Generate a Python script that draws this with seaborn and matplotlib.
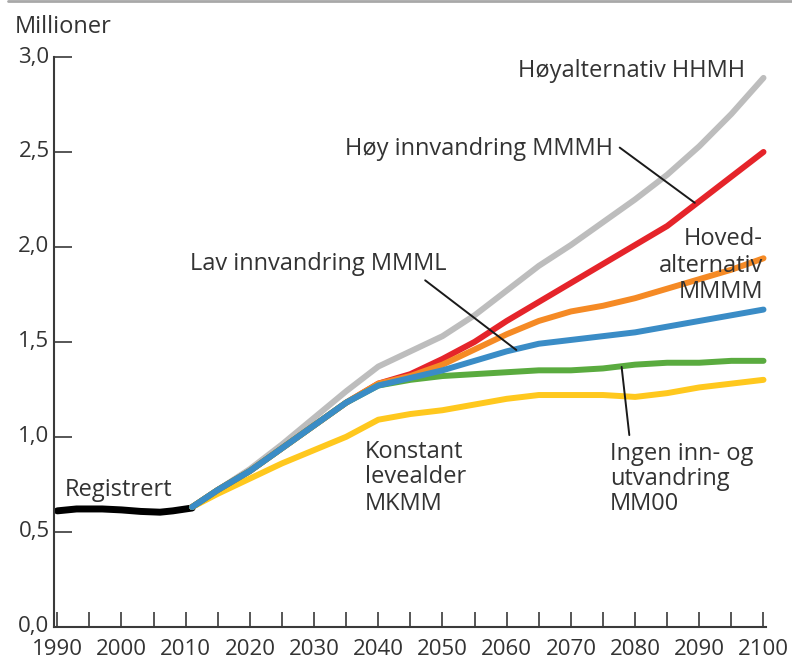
import matplotlib
matplotlib.use("Agg")
import matplotlib.pyplot as plt
from matplotlib.lines import Line2D
import numpy as np
import pandas as pd
import seaborn as sns

# Registered population (millions)
reg_years = [1990, 1993, 1997, 2000, 2003, 2006, 2008, 2010, 2011]
reg_values = [0.61, 0.62, 0.62, 0.615, 0.607, 0.603, 0.61, 0.62, 0.625]

# Projection years
proj_years = [2011, 2015, 2020, 2025, 2030, 2035, 2040, 2045, 2050, 2055,
              2060, 2065, 2070, 2075, 2080, 2085, 2090, 2095, 2100]

hhmh = [0.63, 0.72, 0.83, 0.96, 1.10, 1.24, 1.37, 1.45, 1.53, 1.64,
        1.77, 1.90, 2.01, 2.13, 2.25, 2.38, 2.53, 2.70, 2.89]
mmmh = [0.63, 0.72, 0.82, 0.94, 1.06, 1.18, 1.28, 1.33, 1.41, 1.50,
        1.61, 1.71, 1.81, 1.91, 2.01, 2.11, 2.24, 2.37, 2.50]
mmmm = [0.63, 0.72, 0.82, 0.94, 1.06, 1.18, 1.28, 1.32, 1.38, 1.46,
        1.54, 1.61, 1.66, 1.69, 1.73, 1.78, 1.83, 1.88, 1.94]
mmml = [0.63, 0.72, 0.82, 0.94, 1.06, 1.18, 1.27, 1.31, 1.35, 1.40,
        1.45, 1.49, 1.51, 1.53, 1.55, 1.58, 1.61, 1.64, 1.67]
mm00 = [0.63, 0.72, 0.82, 0.94, 1.06, 1.18, 1.27, 1.30, 1.32, 1.33,
        1.34, 1.35, 1.35, 1.36, 1.38, 1.39, 1.39, 1.40, 1.40]
mkmm = [0.63, 0.70, 0.78, 0.86, 0.93, 1.00, 1.09, 1.12, 1.14, 1.17,
        1.20, 1.22, 1.22, 1.22, 1.21, 1.23, 1.26, 1.28, 1.30]

series_names = ["HHMH", "MKMM", "MMMH", "MMMM", "MM00", "MMML"]
series_values = [hhmh, mkmm, mmmh, mmmm, mm00, mmml]
palette = {
    "HHMH": "#BDBDBD",
    "MKMM": "#FFC81E",
    "MMMH": "#E5242A",
    "MMMM": "#F58A25",
    "MM00": "#5AAB3F",
    "MMML": "#3A8CC6",
}

x_ticks = list(range(1990, 2101, 10))
x_minor = list(range(1995, 2100, 10))
y_ticks = [0.0, 0.5, 1.0, 1.5, 2.0, 2.5, 3.0]
y_labels = ["0,0", "0,5", "1,0", "1,5", "2,0", "2,5", "3,0"]

proj = pd.DataFrame({
    "year": np.tile(proj_years, len(series_names)),
    "value": np.concatenate(series_values),
    "series": np.repeat(series_names, len(proj_years)),
})
reg = pd.DataFrame({"year": reg_years, "value": reg_values})

sns.set_style("white")
plt.rcParams["font.family"] = ["Open Sans", "DejaVu Sans"]

TXT = "#333333"
AX = "#3a3a3a"

fig = plt.figure(figsize=(7.92, 6.72), dpi=100)
ax = fig.add_axes([53.7 / 792, (672 - 626.7) / 672,
                   (766 - 53.7) / 792, (626.7 - 57) / 672])

sns.lineplot(data=reg, x="year", y="value", color="black", linewidth=5.0,
             solid_capstyle="round", ax=ax, clip_on=False)
sns.lineplot(data=proj, x="year", y="value", hue="series",
             hue_order=series_names, palette=palette, linewidth=4.3,
             solid_capstyle="round", solid_joinstyle="round", legend=False,
             ax=ax, clip_on=False)

ax.set_xlim(1989.44, 2100.39)
ax.set_ylim(0, 3.0)
ax.set_xlabel("")
ax.set_ylabel("")

for side in ("top", "right"):
    ax.spines[side].set_visible(False)
for side in ("left", "bottom"):
    ax.spines[side].set_color(AX)
    ax.spines[side].set_linewidth(1.5)

ax.set_xticks(x_ticks)
ax.set_xticks(x_minor, minor=True)
ax.set_yticks(y_ticks)
ax.set_yticklabels(y_labels)
ax.tick_params(axis="x", which="both", bottom=True, direction="in",
               length=11, width=1.2, color=AX, labelsize=16, labelcolor=TXT,
               pad=9)
ax.tick_params(axis="y", left=True, direction="in", length=13, width=1.2,
               color=AX, labelsize=16, labelcolor=TXT, pad=3)
for t in ax.get_yticklabels():
    t.set_verticalalignment("center")
ax.get_yticklabels()[0].set_y(0.012)

# Series labels
lab = dict(fontsize=17, color=TXT, va="baseline")
ax.text(2097.1, 2.893, "Høyalternativ HHMH", ha="right", **lab)
ax.text(2076.6, 2.483, "Høy innvandring MMMH", ha="right", **lab)
ax.text(2010.7, 1.877, "Lav innvandring MMML", ha="left", **lab)
for y, s in zip([2.009, 1.868, 1.730], ["Hoved-", "alternativ", "MMMM"]):
    ax.text(2099.9, y, s, ha="right", **lab)
for y, s in zip([0.888, 0.757, 0.614], ["Konstant", "levealder", "MKMM"]):
    ax.text(2037.9, y, s, ha="left", **lab)
for y, s in zip([0.877, 0.746, 0.614], ["Ingen inn- og", "utvandring", "MM00"]):
    ax.text(2076.1, y, s, ha="left", **lab)
ax.text(1991.2, 0.688, "Registrert", ha="left", **lab)

# Leader lines
for (x0, y0), (x1, y1) in [((2077.6, 2.523), (2089.3, 2.232)),
                           ((2047.3, 1.824), (2061.5, 1.457)),
                           ((2077.9, 1.368), (2079.1, 1.009))]:
    ax.plot([x0, x1], [y0, y1], color="#1a1a1a", linewidth=1.4)

fig.text(15 / 792, 1 - 33 / 672, "Millioner", fontsize=17, color=TXT,
         va="baseline", ha="left")
fig.add_artist(Line2D([8 / 792, 1.0], [1 - 1 / 672, 1 - 1 / 672],
                      color="#a8a8a8", linewidth=2, transform=fig.transFigure))

fig.savefig("out.png", dpi=100)
